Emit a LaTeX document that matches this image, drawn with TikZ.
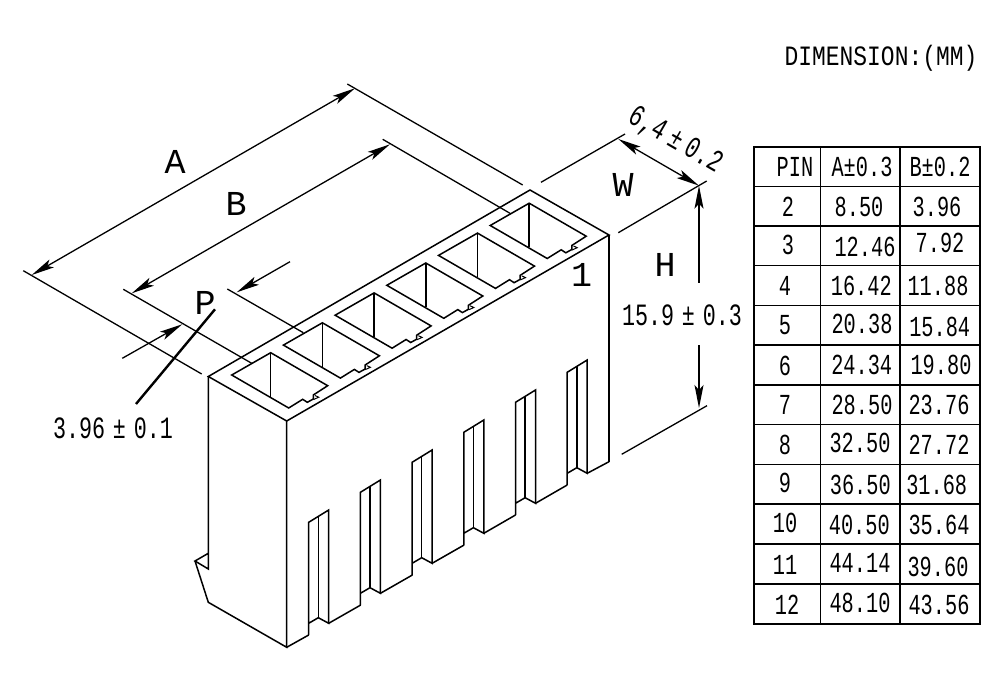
\documentclass[tikz,border=0pt]{standalone}
\usepackage{fontspec}
\usepackage{tikz}
\setmonofont{Liberation Mono}[FakeStretch=0.7]
\newfontfamily\titlefont{Liberation Mono}[FakeStretch=0.82]
\newfontfamily\letterfont{Liberation Mono}
\usetikzlibrary{arrows.meta}
\tikzset{part/.style={draw=black,line width=1.5pt,line join=miter},
 dimline/.style={draw=black,line width=1.3pt},
 bothtips/.style={{Stealth[length=23pt,width=9pt,inset=5pt]}-{Stealth[length=23pt,width=9pt,inset=5pt]}},
 onetip/.style={-{Stealth[length=23pt,width=9pt,inset=5pt]}},
 cell/.style={font=\fontsize{29}{29}\selectfont,inner sep=0pt},
 titletext/.style={font=\fontsize{28}{28}\selectfont\titlefont,inner sep=0pt},
 dimtext/.style={font=\fontsize{31}{31}\selectfont,inner sep=0pt},
 letter/.style={font=\fontsize{35}{35}\selectfont\letterfont,inner sep=0pt},
 socket/.pic={
  \draw[part] (288.7,408) -- (231.7,375) -- (270.7,352.7) -- (327.7,385.7) -- (313.3,395) -- (313.3,399) -- (307.3,402.3) -- (302.7,399.3) -- cycle;
  \draw[part] (270.7,352.7) -- (270.7,396.7);
  \draw[part,line width=1pt] (315,395.5) -- (318.7,397.2) -- (313.6,399.5);
 },
 slot/.pic={
  \draw[part] (308.7,635) -- (308.7,522.3) -- (328.7,510) -- (328.7,623.3) -- (318.3,617.7) -- (308.7,623.3);
  \draw[part] (318.3,516) -- (318.3,617.7);
 },
}

\begin{document}
\begin{tikzpicture}[x=1pt,y=-1pt]
        \useasboundingbox (0,0) rectangle (1000,700);

        % body
        \draw[part] (208.3,376.5) -- (286.7,421) -- (609,235) -- (530,190) -- cycle;
        \draw[part] (208.3,376.5) -- (208.3,569) -- (195,561) -- (208.3,553.3);
        \draw[part] (195,561) -- (208.3,602.3) -- (286.7,647.3) -- (286.7,421);
        \draw[part] (609,235) -- (609,461.7);
        \draw[part] (286.7,647.3) -- (308.7,635) (328.7,623.3) -- (360.7,605)
            (380.4,593.3) -- (412.4,575) (432.1,563.3) -- (464.1,545)
            (483.8,533.3) -- (515.5,515) (535.5,503.3) -- (567.2,485)
            (587.2,473.3) -- (609,461.7);

        % sockets
        \pic at (0,0) {socket};
        \pic at (51.7,-29.9) {socket};
        \pic at (103.4,-59.8) {socket};
        \pic at (155.1,-89.7) {socket};
        \pic at (206.8,-119.6) {socket};
        \pic at (258.5,-149.5) {socket};

        % slots
        \pic at (0,0) {slot};
        \pic at (51.7,-30) {slot};
        \pic at (103.4,-60) {slot};
        \pic at (155.1,-90) {slot};
        \pic at (206.8,-120) {slot};
        \pic at (258.5,-150) {slot};

        % dimension lines
        \coordinate (atop) at (355,88.3);
        \coordinate (aend) at (31.7,275);
        \coordinate (btop) at (390,144.3);
        \coordinate (bend) at (131.7,293.3);
        \coordinate (wleft) at (618.3,139);
        \coordinate (wright) at (699,185.7);
        \coordinate (hlow) at (699,408);
        \coordinate (hup) at (699,283);
        \coordinate (hdown) at (699,345);
        \coordinate (pup) at (290,261.7);
        \coordinate (pupend) at (236.7,292.3);
        \coordinate (plow) at (122.3,358.3);
        \coordinate (plowend) at (182.3,324.3);
        \draw[dimline] (347.3,84) -- (522.7,185);
        \draw[dimline] (23.3,270.7) -- (201.7,374);
        \draw[dimline] (382.7,139.3) -- (510,213.3);
        \draw[dimline] (123.3,289.3) -- (251.7,363.3);
        \draw[dimline] (227.3,289) -- (303.3,332.7);
        \draw[dimline] (541,182.3) -- (625,134);
        \draw[dimline] (618.3,232.7) -- (706.7,181);
        \draw[dimline] (621.7,454.3) -- (707,405.7);
        \draw[dimline,bothtips] (aend) -- (atop);
        \draw[dimline,bothtips] (bend) -- (btop);
        \draw[dimline,bothtips] (wleft) -- (wright);
        \draw[dimline,onetip] (hup) -- (wright);
        \draw[dimline,onetip] (hdown) -- (hlow);
        \draw[dimline,onetip] (pup) -- (pupend);
        \draw[dimline,onetip] (plow) -- (plowend);
        \draw[draw=black,line width=2.4pt] (215,309.3) -- (136,404);

        % labels
        \node[titletext] (title) at (881,58) {DIMENSION:(MM)};
        \node[letter] (la) at (175,162) {A};
        \node[letter] (lb) at (236,204) {B};
        \node[letter] (lp) at (205,303) {P};
        \node[letter] (lw) at (623,185) {W};
        \node[letter] (lh) at (665,265) {H};
        \node[letter] (lone) at (581.7,275) {1};
        \node[dimtext] (tp) at (113,428) {\texttt{3.96\hspace{.25em}±\hspace{.25em}0.1}};
        \node[dimtext] (th) at (682,315) {\texttt{15.9\hspace{.25em}±\hspace{.25em}0.3}};
        \node[dimtext,rotate=-30] (tw) at (675,141) {\texttt{6,4\hspace{.2em}±\hspace{.2em}0.2}};

        % table
        \draw[part] (754,147) rectangle (980,624);
        \draw[part] (820.7,147) -- (820.7,624) (900,147) -- (900,624);
        \draw[part] (754,186.7) -- (980,186.7) (754,226) -- (980,226)
            (754,265.5) -- (980,265.5) (754,305.5) -- (980,305.5)
            (754,345) -- (980,345) (754,385) -- (980,385)
            (754,424.5) -- (980,424.5) (754,464.5) -- (980,464.5)
            (754,504) -- (980,504) (754,544) -- (980,544)
            (754,584) -- (980,584);
        \node[cell] (hpin) at (795,166.7) {\texttt{PIN}};
        \node[cell] (ha) at (862,166.7) {\texttt{A±0.3}};
        \node[cell] (hb) at (940,166.7) {\texttt{B±0.2}};
        \node[cell] (p2) at (788,206.7) {\texttt{2}};
        \node[cell] (a2) at (859,207) {\texttt{8.50}};
        \node[cell] (b2) at (937,207) {\texttt{3.96}};
        \node[cell] (p3) at (788,245) {\texttt{3}};
        \node[cell] (a3) at (865,246.7) {\texttt{12.46}};
        \node[cell] (b3) at (940,243) {\texttt{7.92}};
        \node[cell] (p4) at (785,286) {\texttt{4}};
        \node[cell] (a4) at (861.3,286) {\texttt{16.42}};
        \node[cell] (b4) at (938,286) {\texttt{11.88}};
        \node[cell] (p5) at (785,325) {\texttt{5}};
        \node[cell] (a5) at (862,324) {\texttt{20.38}};
        \node[cell] (b5) at (939.7,326.7) {\texttt{15.84}};
        \node[cell] (p6) at (785,365.7) {\texttt{6}};
        \node[cell] (a6) at (861.7,365) {\texttt{24.34}};
        \node[cell] (b6) at (941,365) {\texttt{19.80}};
        \node[cell] (p7) at (785,405) {\texttt{7}};
        \node[cell] (a7) at (862,405) {\texttt{28.50}};
        \node[cell] (b7) at (939,405) {\texttt{23.76}};
        \node[cell] (p8) at (785,445) {\texttt{8}};
        \node[cell] (a8) at (860,443) {\texttt{32.50}};
        \node[cell] (b8) at (939,445) {\texttt{27.72}};
        \node[cell] (p9) at (785,483) {\texttt{9}};
        \node[cell] (a9) at (860.3,485) {\texttt{36.50}};
        \node[cell] (b9) at (936.7,485) {\texttt{31.68}};
        \node[cell] (p10) at (785,523) {\texttt{10}};
        \node[cell] (a10) at (859.3,525) {\texttt{40.50}};
        \node[cell] (b10) at (939,525) {\texttt{35.64}};
        \node[cell] (p11) at (785,565) {\texttt{11}};
        \node[cell] (a11) at (860,562.7) {\texttt{44.14}};
        \node[cell] (b11) at (938,566.7) {\texttt{39.60}};
        \node[cell] (p12) at (787,605) {\texttt{12}};
        \node[cell] (a12) at (860,603) {\texttt{48.10}};
        \node[cell] (b12) at (939,605) {\texttt{43.56}};
    \end{tikzpicture}
\end{document}
